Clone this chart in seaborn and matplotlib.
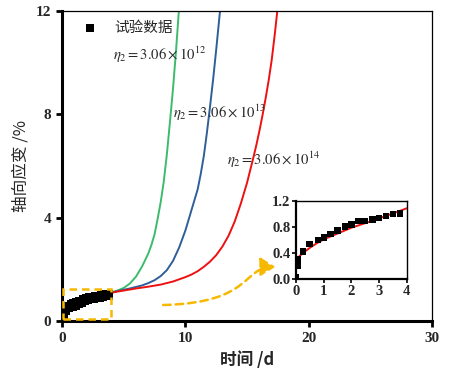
import matplotlib
matplotlib.use("Agg")
import matplotlib.pyplot as plt
from matplotlib.patches import Rectangle, FancyArrowPatch
from matplotlib.path import Path
import seaborn as sns

# test data (time /d, axial strain /%)
test_t = [0.0, 0.05, 0.05, 0.26, 0.48, 0.8, 1.02, 1.25, 1.5, 1.77, 2.0, 2.25, 2.49, 2.76, 3.0, 3.25, 3.5, 3.75]
test_eps = [0.03, 0.20, 0.30, 0.42, 0.54, 0.60, 0.64, 0.69, 0.75, 0.81, 0.84, 0.89, 0.89, 0.92, 0.94, 0.97, 1.00, 1.01]

# model curves for three eta_2 values
t_e12 = [0.02, 0.1, 0.25, 0.5, 1, 1.5, 2, 2.5, 3, 3.5, 4, 4.5, 5, 5.5, 6, 6.5, 7, 7.25, 7.5, 7.75,
         8, 8.25, 8.5, 8.75, 9, 9.25, 9.5]
eps_e12 = [0.30, 0.40, 0.49, 0.58, 0.70, 0.80, 0.87, 0.94, 1.00, 1.06, 1.11, 1.18, 1.28, 1.45, 1.72, 2.12,
           2.62, 2.95, 3.35, 3.95, 4.6, 5.4, 6.45, 7.7, 9.0, 10.5, 12.2]

t_e13 = [0.02, 0.1, 0.25, 0.5, 1, 1.5, 2, 2.5, 3, 3.5, 4, 4.5, 5, 5.5, 6, 6.5, 7, 7.5, 8, 8.5, 9, 9.5,
         10, 10.5, 11, 11.25, 11.5, 11.75, 12, 12.25, 12.5, 12.85]
eps_e13 = [0.28, 0.35, 0.42, 0.50, 0.63, 0.72, 0.81, 0.89, 0.96, 1.03, 1.10, 1.16, 1.21, 1.26, 1.32, 1.38,
           1.47, 1.58, 1.74, 1.97, 2.33, 2.85, 3.5, 4.3, 5.1, 5.7, 6.4, 7.3, 8.3, 9.35, 10.5, 12.2]

t_e14 = [0.02, 0.1, 0.25, 0.5, 0.75, 1, 1.5, 2, 2.5, 3, 3.5, 4, 4.5, 5, 6, 7, 8, 9, 10, 10.5, 11, 11.5,
         12, 12.5, 13, 13.5, 14, 14.5, 15, 15.5, 15.75, 16, 16.25, 16.5, 16.75, 17, 17.25, 17.5]
eps_e14 = [0.28, 0.34, 0.40, 0.48, 0.55, 0.61, 0.70, 0.79, 0.86, 0.935, 1.01, 1.09, 1.14, 1.18, 1.26, 1.33,
           1.41, 1.53, 1.70, 1.80, 1.93, 2.10, 2.30, 2.55, 2.88, 3.30, 3.85, 4.55, 5.35, 6.3, 6.8, 7.35,
           7.95, 8.6, 9.3, 10.1, 11.1, 12.2]

labels = [r"$\eta_2=3.06\times10^{12}$", r"$\eta_2=3.06\times10^{13}$", r"$\eta_2=3.06\times10^{14}$"]

green = "#3dbb6c"
blue = "#2f5f98"
red = "#ee1111"
gold = "#f7b800"

sns.set_theme(style="ticks")
plt.rcParams["font.family"] = ["Liberation Serif", "Noto Sans CJK SC"]
plt.rcParams["mathtext.fontset"] = "stix"

fig = plt.figure(figsize=(4.72, 3.69), dpi=100)
ax = fig.add_axes([0.1314, 0.130, 0.7839, 0.840])

sns.lineplot(x=t_e12, y=eps_e12, ax=ax, color=green, lw=1.4, estimator=None, sort=False)
sns.lineplot(x=t_e13, y=eps_e13, ax=ax, color=blue, lw=1.4, estimator=None, sort=False)
sns.lineplot(x=t_e14, y=eps_e14, ax=ax, color=red, lw=1.4, estimator=None, sort=False)
sns.scatterplot(x=test_t, y=test_eps, ax=ax, marker="s", s=55, color="black", edgecolor="none",
                label="试验数据", zorder=5)

ax.set_xlim(0, 30)
ax.set_ylim(0, 12)
ax.set_xticks([0, 10, 20, 30])
ax.set_yticks([0, 4, 8, 12])
for side in ["left", "bottom"]:
    ax.spines[side].set_linewidth(2.2)
for side in ["top", "right"]:
    ax.spines[side].set_visible(True)
    ax.spines[side].set_linewidth(0.9)
ax.spines[:].set_color("black")
ax.tick_params(direction="out", length=4, width=2, labelsize=11, pad=4, color="black")
for lab in ax.get_xticklabels() + ax.get_yticklabels():
    lab.set_fontweight("bold")

ax.set_xlabel("时间 /d", fontsize=12, fontweight="bold", family=["Noto Sans CJK SC"], labelpad=4)
ax.set_ylabel("轴向应变 /%", fontsize=12, family=["Noto Sans CJK SC"], labelpad=4)

leg = ax.legend(loc="upper left", bbox_to_anchor=(0.02, 1.01), frameon=False, handlelength=1.0,
                handletextpad=1.2, markerscale=0.8, prop={"family": ["Noto Sans CJK SC"], "size": 10.5})

ax.text(4.1, 10.3, labels[0], fontsize=10.5, ha="left", va="center")
ax.text(9.0, 8.06, labels[1], fontsize=10.5, ha="left", va="center")
ax.text(13.4, 6.24, labels[2], fontsize=10.5, ha="left", va="center")

# dashed zoom box and arrow
ax.add_patch(Rectangle((0.08, 0.08), 3.9, 1.15, fill=False, ec=gold, lw=1.8, ls=(0, (3, 2)), zorder=6))
arrow_path = Path([(8.2, 0.62), (15.5, 0.7), (14.6, 2.1), (17.3, 2.1)],
                  [Path.MOVETO, Path.CURVE4, Path.CURVE4, Path.CURVE4])
ax.add_patch(FancyArrowPatch(path=arrow_path, arrowstyle="-|>,head_length=0.45,head_width=0.28",
                             mutation_scale=20, color=gold, lw=1.8, ls=(0, (3, 2)),
                             transform=ax.transData))

# inset
axin = fig.add_axes([0.627, 0.244, 0.235, 0.211])
sns.lineplot(x=t_e14[:12], y=eps_e14[:12], ax=axin, color=red, lw=1.4, estimator=None, sort=False)
sns.scatterplot(x=test_t, y=test_eps, ax=axin, marker="s", s=22, color="black", edgecolor="none",
                zorder=5)
axin.set_xlim(0, 4)
axin.set_ylim(0, 1.2)
axin.set_xticks([0, 1, 2, 3, 4])
axin.set_yticks([0.0, 0.4, 0.8, 1.2])
axin.set_yticklabels(["0.0", "0.4", "0.8", "1.2"])
for side in ["left", "bottom"]:
    axin.spines[side].set_linewidth(1.6)
for side in ["top", "right"]:
    axin.spines[side].set_visible(True)
    axin.spines[side].set_linewidth(1.0)
axin.spines[:].set_color("black")
axin.tick_params(direction="out", length=3, width=1.2, labelsize=10.5, pad=1, color="black")
for lab in axin.get_xticklabels() + axin.get_yticklabels():
    lab.set_fontweight("bold")
axin.set_xlabel("")
axin.set_ylabel("")

fig.savefig("out.png", dpi=100)
